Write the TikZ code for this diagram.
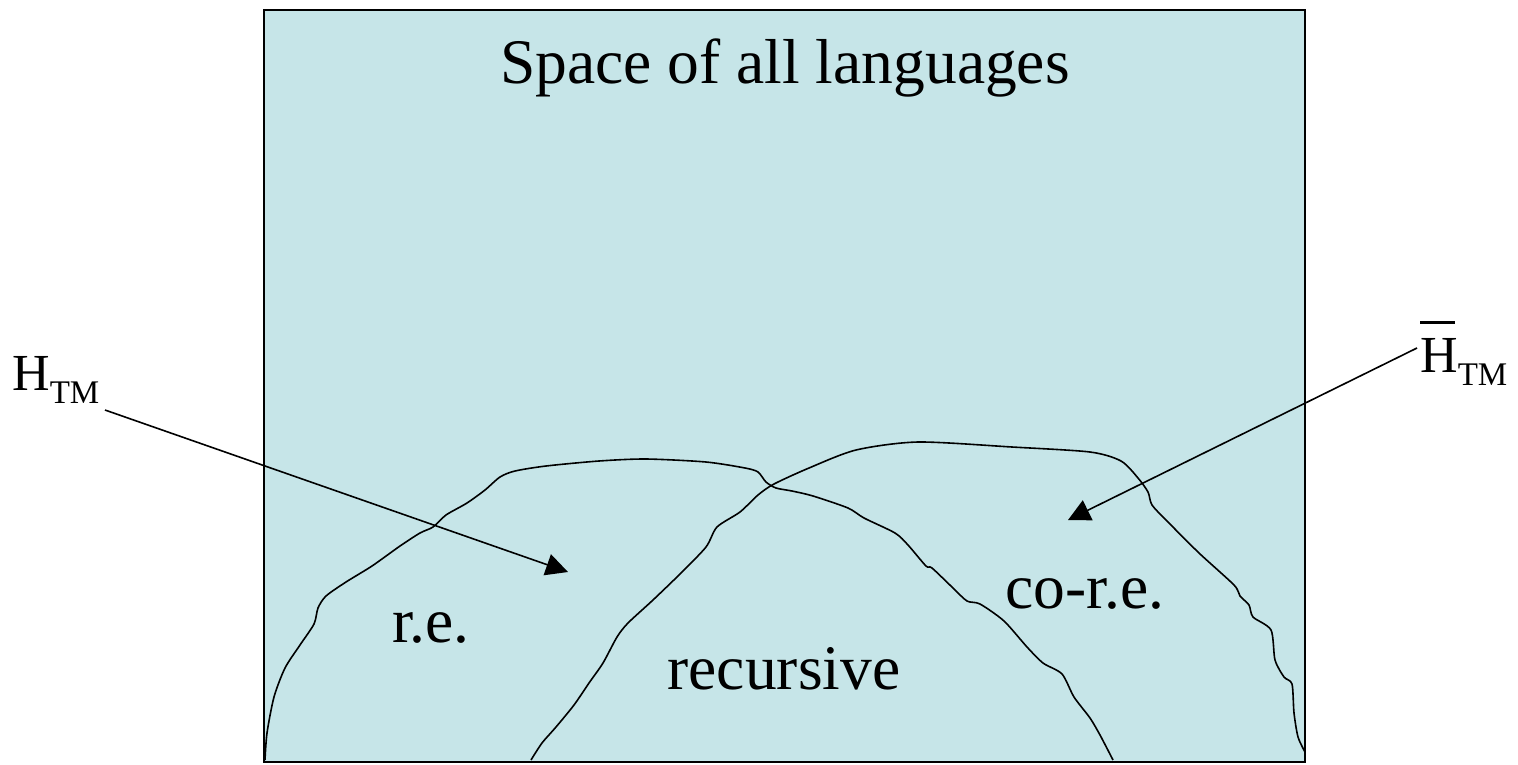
\documentclass[tikz,border=0pt]{standalone}
\usepackage{fontspec}
\setmainfont{Liberation Serif}
\usetikzlibrary{arrows.meta}
\definecolor{bgcyan}{RGB}{198,229,232}
\tikzset{
  big/.style={inner sep=0pt, anchor=base, font=\fontsize{63.5}{70}\selectfont},
  hlabel/.style={inner sep=0pt, anchor=base west},
  boundary/.style={line width=1.6pt, black},
  pointer/.style={line width=1.6pt, black, -{Triangle[length=22pt,width=22pt]}}
}
\newcommand{\Hbig}{\fontsize{52}{56}\selectfont H}
\newcommand{\TMsub}{\raisebox{-13pt}{\fontsize{33}{36}\selectfont TM}}
\begin{document}
\begin{tikzpicture}[x=1pt,y=-1pt]
\useasboundingbox (0,0) rectangle (1518,764);
\fill[bgcyan] (264,10) rectangle (1305,762);
\draw[boundary] plot[smooth, tension=0.45] coordinates {
(265,760) (267,733) (274,697) (285,668) (300,645) (314,624) (318,608) (326,596) (346,582) (372,566) (400,546) (420,533) (433,527) (446,515) (467,503) (485,490) (500,477) (515,471) (546,466) (599,461) (646,459) (706,462) (745,468) (758,472) (766,482) (776,488) (792,491) (813,496) (848,508) (864,518) (895,533) (908,545) (926,566) (932,568) (953,588) (967,601) (980,604) (1004,621) (1027,647) (1043,663) (1062,674) (1074,697) (1090,718) (1100,735) (1113,760)};
\draw[boundary] plot[smooth, tension=0.45] coordinates {
(531,760) (542,743) (556,727) (574,705) (589,683) (603,663) (617,637) (628,623) (653,600) (681,573) (706,547) (717,527) (740,512) (758,495) (774,484) (809,468) (856,450) (918,442) (1012,447) (1090,452) (1121,461) (1138,478) (1148,492) (1152,505) (1167,521) (1199,553) (1234,585) (1240,596) (1249,605) (1253,617) (1271,630) (1275,660) (1284,677) (1292,684) (1294,713) (1298,737) (1305,752)};
\draw[line width=2pt] (264,10) rectangle (1305,762);
\node[big] (title) at (785,83) {Space of all languages};
\node[big] (re) at (431,642) {r.e.};
\node[big] (rec) at (784,689) {recursive};
\node[big] (core) at (1085,608) {co-r.e.};
\node[hlabel] (hl) at (12,390) {\Hbig\TMsub};
\node[hlabel] (hr) at (1420,372) {\rlap{\raisebox{48pt}{\rule{35pt}{2.8pt}}}\Hbig\TMsub};
\coordinate (a1s) at (105,410);
\coordinate (a1e) at (568,572);
\coordinate (a2s) at (1417,348);
\coordinate (a2e) at (1068,520);
\draw[pointer] (a1s) -- (a1e);
\draw[pointer] (a2s) -- (a2e);
\end{tikzpicture}
\end{document}
